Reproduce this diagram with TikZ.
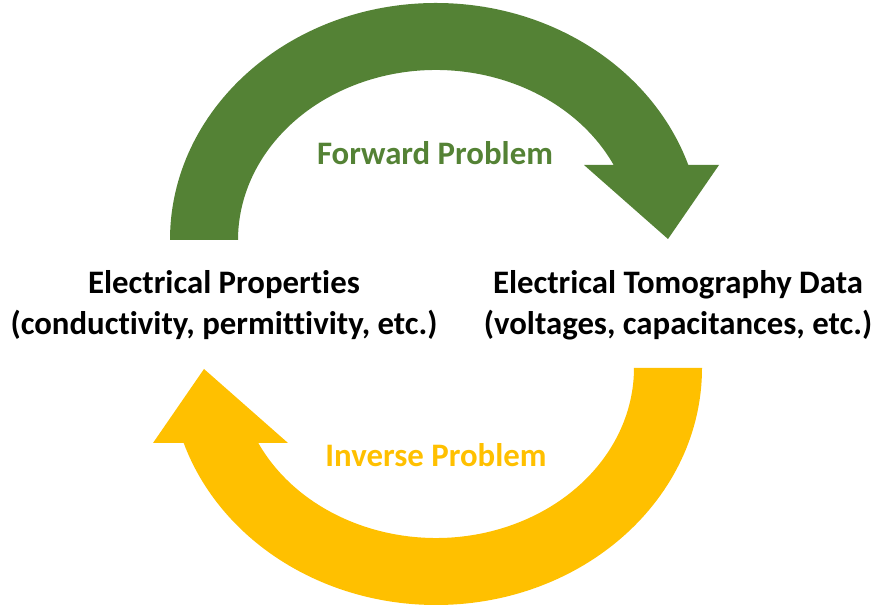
\documentclass[tikz,border=0pt]{standalone}
\usepackage{fontspec}
\setmainfont{Carlito}[RawFeature=-liga]
\definecolor{fwdgreen}{HTML}{548235}
\definecolor{invyellow}{HTML}{FFC000}
\tikzset{
  lbl/.style={font=\fontsize{32.8}{41}\selectfont\bfseries, align=center, inner sep=0pt},
  arrlbl/.style={font=\fontsize{32.8}{36}\selectfont\bfseries, inner sep=0pt}
}
\begin{document}
\begin{tikzpicture}[x=1pt,y=1pt]
\useasboundingbox (0,0) rectangle (878,609);
% green forward arrow
\fill[fwdgreen] (170,369) arc[start angle=180, end angle=18.45, x radius=266, y radius=237]
  -- (719,444) -- (668,370) -- (584,444) -- (613.7,444)
  arc[start angle=26.18, end angle=180, x radius=198, y radius=170] -- cycle;
% yellow inverse arrow
\fill[invyellow] (702,241) arc[start angle=0, end angle=-161.55, x radius=266, y radius=237]
  -- (153,166) -- (204,240) -- (288,166) -- (258.3,166)
  arc[start angle=-153.82, end angle=0, x radius=198, y radius=170] -- cycle;
\node[lbl] (props) at (224,304) {Electrical Properties\\(conductivity, permittivity, etc.)};
\node[lbl] (data) at (678,304) {Electrical Tomography Data\\(voltages, capacitances, etc.)};
\node[arrlbl, text=fwdgreen] (fwd) at (435,456) {Forward Problem};
\node[arrlbl, text=invyellow] (inv) at (436,154) {Inverse Problem};
\end{tikzpicture}
\end{document}
